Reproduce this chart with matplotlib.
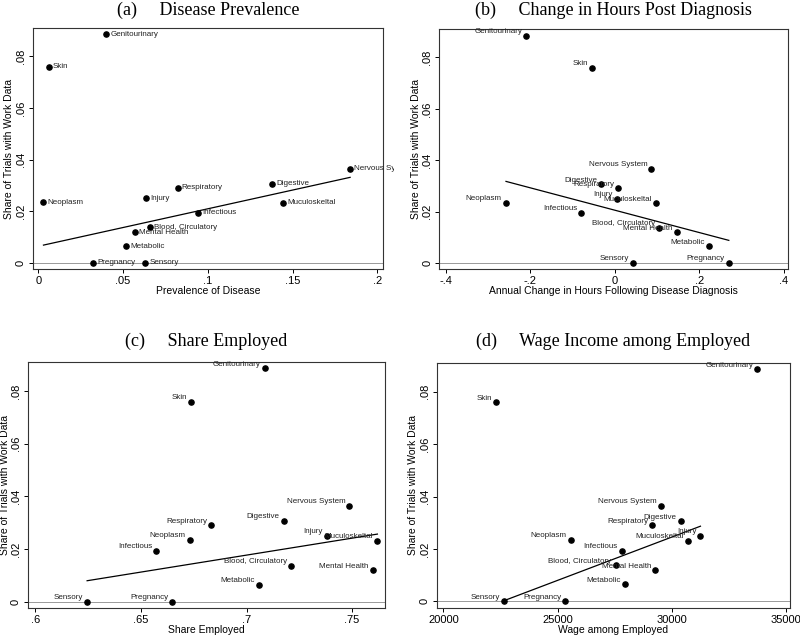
"""Share of trials with work data vs. disease characteristics, four panels."""

import numpy as np
import matplotlib
matplotlib.use("Agg")
import matplotlib.pyplot as plt
from matplotlib.ticker import FuncFormatter
from matplotlib.transforms import Bbox, TransformedBbox

# categories and shared y values (share of trials with work data)
categories = ["Genitourinary", "Skin", "Neoplasm", "Injury", "Respiratory",
              "Infectious", "Blood, Circulatory", "Mental Health", "Metabolic",
              "Pregnancy", "Sensory", "Digestive", "Muculoskeltal", "Nervous System"]
share_work = [0.0885, 0.0759, 0.0235, 0.0250, 0.0290,
              0.0194, 0.0137, 0.0119, 0.0065,
              0.0, 0.0, 0.0306, 0.0232, 0.0365]

# x values per panel
prevalence = [0.040, 0.006, 0.003, 0.0634, 0.0822,
              0.094, 0.066, 0.057, 0.052,
              0.0325, 0.063, 0.138, 0.1445, 0.184]
hours_change = [-0.209, -0.054, -0.257, 0.006, 0.009,
                -0.079, 0.105, 0.147, 0.224,
                0.270, 0.044, -0.032, 0.098, 0.087]
share_employed = [0.7088, 0.6737, 0.673, 0.738, 0.6832,
                  0.6573, 0.7212, 0.7597, 0.706,
                  0.6648, 0.6245, 0.7177, 0.762, 0.7487]
wage = [33760, 22323, 25580, 31262, 29159,
        27815, 27552, 29290, 27960,
        25346, 22673, 30400, 30707, 29539]

# outliers left out of the fitted line
fit_excluded = ["Genitourinary", "Skin"]

SANS = "Liberation Sans"
SERIF = "Liberation Serif"


def strip_zero(v, pos=None):
    s = f"{v:g}"
    s = s.replace("0.", ".")
    return s


def draw_panel(fig, rect, x, title, xlabel, xlim, xticks, label_side, title_y, xfmt=strip_zero):
    ax = fig.add_axes(rect)
    x = np.asarray(x, dtype=float)
    y = np.asarray(share_work, dtype=float)

    ax.axhline(0, color="#999999", lw=0.7, zorder=1)

    keep = np.array([c not in fit_excluded for c in categories])
    slope, icpt = np.polyfit(x[keep], y[keep], 1)
    xs = np.array([x[keep].min(), x[keep].max()])
    ax.plot(xs, icpt + slope * xs, color="black", lw=0.9, zorder=2)

    # labels get clipped a little past the right spine, like the plot region
    clip = TransformedBbox(Bbox.from_extents(rect[0] - 0.01, rect[1] - 0.01,
                                             rect[0] + rect[2] + 11 / 800,
                                             rect[1] + rect[3] + 0.01),
                           fig.transFigure)

    ax.scatter(x, y, s=14, color="black", zorder=3)
    for cx, cy, name in zip(x, y, categories):
        if label_side == "right":
            t = ax.annotate(name, (cx, cy), xytext=(3, 0), textcoords="offset points",
                            ha="left", va="center", fontsize=5.8, family=SANS,
                            color="#222222", clip_on=True)
        else:
            t = ax.annotate(name, (cx, cy), xytext=(-3, 3), textcoords="offset points",
                            ha="right", va="center", fontsize=5.8, family=SANS,
                            color="#222222", clip_on=True)
        t.set_clip_box(clip)

    ax.set_xlim(*xlim)
    ax.set_ylim(-0.0024, 0.091)
    ax.set_xticks(xticks)
    ax.set_yticks([0, 0.02, 0.04, 0.06, 0.08])
    ax.xaxis.set_major_formatter(FuncFormatter(xfmt))
    ax.yaxis.set_major_formatter(FuncFormatter(strip_zero))
    for lab in ax.get_yticklabels():
        lab.set_rotation(90)
        lab.set_va("center")
    ax.tick_params(direction="out", length=3, width=0.7, labelsize=8, pad=2)
    for lab in ax.get_xticklabels() + ax.get_yticklabels():
        lab.set_family(SANS)
    ax.set_xlabel(xlabel, fontsize=7.5, family=SANS, labelpad=0)
    ax.set_ylabel("Share of Trials with Work Data", fontsize=7.5, family=SANS, labelpad=1)
    for sp in ax.spines.values():
        sp.set_linewidth(0.8)
        sp.set_color("#333333")

    cx = rect[0] + rect[2] / 2
    fig.text(cx, title_y, title, ha="center", va="center", fontsize=13, family=SERIF)
    return ax


fig = plt.figure(figsize=(8, 6.36), dpi=100)

draw_panel(fig, [0.041, 0.577, 0.4375, 0.379], prevalence,
           "(a)     Disease Prevalence", "Prevalence of Disease",
           (-0.0033, 0.2033), [0, 0.05, 0.1, 0.15, 0.2], "right", 0.984)
draw_panel(fig, [0.549, 0.577, 0.436, 0.377], hours_change,
           "(b)     Change in Hours Post Diagnosis",
           "Annual Change in Hours Following Disease Diagnosis",
           (-0.415, 0.41), [-0.4, -0.2, 0, 0.2, 0.4], "left", 0.984)
draw_panel(fig, [0.035, 0.044, 0.446, 0.387], share_employed,
           "(c)     Share Employed", "Share Employed",
           (0.5965, 0.7655), [0.6, 0.65, 0.7, 0.75], "left", 0.464)
draw_panel(fig, [0.546, 0.0445, 0.4416, 0.385], wage,
           "(d)     Wage Income among Employed", "Wage among Employed",
           (19708, 35190), [20000, 25000, 30000, 35000], "left", 0.464,
           xfmt=lambda v, pos=None: f"{v:.0f}")

fig.savefig("out.png", dpi=100, facecolor="white")
